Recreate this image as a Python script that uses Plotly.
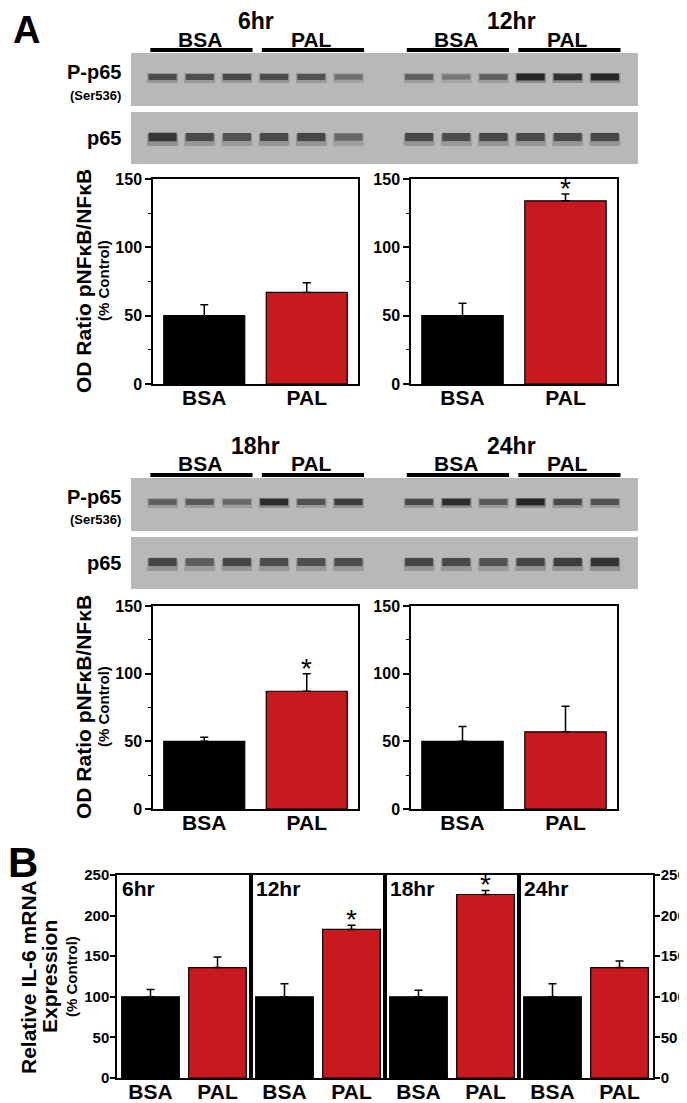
import plotly.graph_objects as go

# the page puts the plot 8 px in from the top-left corner, so all positions below
# are given in window pixels and shifted by OFF when converted to paper fractions
OFF = 8
W, H = 687 - OFF, 1103 - OFF
FONT = "Liberation Sans"
RED = "#C8191E"
FILM = 184  # grey level of the blot film

# ---------------- data ----------------
groups = ["BSA", "PAL"]

# Panel A western blots: band darkness (0 = film, 1 = black), 3 BSA + 3 PAL lanes per time point
blot_top_times = ["6hr", "12hr"]
pp65_top = [0.70, 0.68, 0.72, 0.70, 0.66, 0.48, 0.58, 0.42, 0.58, 0.95, 0.88, 0.95]
p65_top = [0.85, 0.72, 0.66, 0.72, 0.74, 0.52, 0.74, 0.70, 0.74, 0.72, 0.72, 0.74]

blot_bottom_times = ["18hr", "24hr"]
pp65_bottom = [0.58, 0.62, 0.52, 0.90, 0.66, 0.80, 0.72, 0.90, 0.62, 0.95, 0.72, 0.66]
p65_bottom = [0.74, 0.60, 0.74, 0.70, 0.68, 0.70, 0.74, 0.72, 0.66, 0.74, 0.80, 0.86]

# Panel A densitometry: OD ratio pNFkB/NFkB (% control), mean + SEM
od_times = ["6hr", "12hr", "18hr", "24hr"]
od_bsa = [50, 50, 50, 50]
od_bsa_err = [8, 9, 3, 11]
od_pal = [67, 134, 87, 57]
od_pal_err = [7, 5, 13, 19]
od_sig = [False, True, True, False]

# Panel B: relative IL-6 mRNA (% control), mean + SEM
il6_times = ["6hr", "12hr", "18hr", "24hr"]
il6_bsa = [100, 100, 100, 100]
il6_bsa_err = [9, 16, 8, 16]
il6_pal = [136, 183, 226, 136]
il6_pal_err = [13, 5, 5, 8]
il6_sig = [False, True, True, False]

# lane positions on the film (two time points, gap between them)
lane_x = [0, 1, 2, 3, 4, 5, 6.9, 7.9, 8.9, 9.9, 10.9, 11.9]


def fx(px):
    return (px - OFF) / W


def fy(py):
    return 1 - (py - OFF) / H


def gray(level):
    v = int(round(level))
    return f"rgb({v},{v},{v})"


def bfont(size):
    return dict(family=FONT, size=size, color="black", weight="bold")


def note(x, y, text, font, **kw):
    # paper-anchored text, centred unless told otherwise
    d = dict(xref="paper", yref="paper", x=fx(x), y=fy(y), text=text, showarrow=False,
             font=font, xanchor="center", yanchor="middle")
    d.update(kw)
    return d


fig = go.Figure()
annotations = []


def add_blot(n, top, times, pp65, p65):
    xa, ya = f"x{n}", f"y{n}"
    fig.update_layout({
        f"xaxis{n}": dict(domain=[fx(131), fx(638)], range=[-0.85, 12.79], visible=False,
                          anchor=ya, automargin=False),
        f"yaxis{n}": dict(domain=[fy(top + 164), fy(top + OFF)], range=[164, OFF], visible=False,
                          anchor=xa, automargin=False),
    })
    # film strips
    for y0, y1 in [(53, 106), (112, 164)]:
        fig.add_shape(type="rect", xref=f"{xa} domain", yref=ya, x0=0, x1=1, y0=y0, y1=y1,
                      fillcolor=gray(FILM), line_width=0, layer="below")
    # bands: soft halo first, then the dark core
    for row_y, dark, core, smear in [(77, pp65, 4, 1), (137, p65, 6, 3)]:
        fig.add_trace(go.Scatter(
            x=lane_x, y=[row_y + smear] * len(lane_x), mode="markers", xaxis=xa, yaxis=ya,
            hoverinfo="skip",
            marker=dict(symbol="line-ew", size=22,
                        line=dict(width=core + 6, color=[gray(FILM - d * 0.3 * (FILM - 30)) for d in dark]))))
        fig.add_trace(go.Scatter(
            x=lane_x, y=[row_y] * len(lane_x), mode="markers", xaxis=xa, yaxis=ya,
            hoverinfo="skip",
            marker=dict(symbol="line-ew", size=20,
                        line=dict(width=[core + 3 * d for d in dark],
                                  color=[gray(FILM - d * (FILM - 30)) for d in dark]))))
    # headers: time point, BSA / PAL with bars
    for ti, t in enumerate(times):
        lanes = lane_x[6 * ti:6 * ti + 6]
        annotations.append(dict(xref=xa, yref=ya, x=(lanes[2] + lanes[3]) / 2, y=21, text=t,
                                showarrow=False, font=bfont(23), xanchor="center", yanchor="middle"))
        for gi, g in enumerate(groups):
            gl = lanes[3 * gi:3 * gi + 3]
            fig.add_shape(type="line", xref=xa, yref=ya, x0=gl[0] - 0.33, x1=gl[-1] + 0.42, y0=50, y1=50,
                          line=dict(color="black", width=4))
            annotations.append(dict(xref=xa, yref=ya, x=gl[1], y=39, text=g, showarrow=False,
                                    font=bfont(21), xanchor="center", yanchor="middle"))
    # row labels
    annotations.append(note(123, top + 72, "P-p65", bfont(20), xanchor="right"))
    annotations.append(note(123, top + 95, "(Ser536)", bfont(13), xanchor="right"))
    annotations.append(note(123, top + 138, "p65", bfont(20), xanchor="right"))


def add_od_chart(n, i, xpx, ypx):
    xa, ya = f"x{n}", f"y{n}"
    vals = [od_bsa[i], od_pal[i]]
    errs = [od_bsa_err[i], od_pal_err[i]]
    fig.add_trace(go.Bar(
        x=groups, y=vals, width=0.79, xaxis=xa, yaxis=ya,
        marker=dict(color=["black", RED], line=dict(color="black", width=1.2)),
        error_y=dict(type="data", array=errs, arrayminus=[0, 0], symmetric=False,
                     color="black", thickness=1.5, width=4)))
    fig.update_layout({
        f"xaxis{n}": dict(domain=[fx(xpx[0]), fx(xpx[1])], anchor=ya, type="category", range=[-0.5, 1.5],
                          showline=True, mirror=True, linecolor="black", linewidth=1.5, ticks="",
                          showgrid=False, tickfont=bfont(21), ticklabelstandoff=-6, automargin=False),
        f"yaxis{n}": dict(domain=[fy(ypx[1]), fy(ypx[0])], anchor=xa, range=[0, 150],
                          tickvals=[0, 50, 100, 150], ticks="outside", ticklen=6, tickwidth=1.5,
                          tickcolor="black", showline=True, mirror=True, linecolor="black", linewidth=1.5,
                          showgrid=False, zeroline=False, tickfont=bfont(16), automargin=False,
                          minor=dict(tickmode="array", tickvals=[25, 75, 125], ticks="outside",
                                     ticklen=3, tickwidth=1.2, tickcolor="black", showgrid=False)),
    })
    if od_sig[i]:
        annotations.append(dict(xref=xa, yref=ya, x="PAL", y=vals[1] + errs[1], xanchor="center",
                                yanchor="bottom", yshift=-12, text="*", showarrow=False,
                                font=dict(family=FONT, size=28, color="black")))


def add_od_title(ycenter):
    annotations.append(note(83, ycenter, "OD Ratio pNFκB/NFκB", bfont(21), textangle=-90))
    annotations.append(note(103, ycenter, "(% Control)", bfont(15), textangle=-90))


# ---------------- panel A ----------------
add_blot(9, 0, blot_top_times, pp65_top, p65_top)
add_blot(10, 425, blot_bottom_times, pp65_bottom, p65_bottom)

add_od_chart(1, 0, (153, 358), (179, 384))
add_od_chart(2, 1, (411, 617), (179, 384))
add_od_chart(3, 2, (153, 358), (606, 809))
add_od_chart(4, 3, (411, 617), (606, 809))
add_od_title(281)
add_od_title(707)

# ---------------- panel B ----------------
b_edges = [117, 251, 385, 519, 653]
for i, t in enumerate(il6_times):
    n = 5 + i
    xa, ya = f"x{n}", f"y{n}"
    vals = [il6_bsa[i], il6_pal[i]]
    errs = [il6_bsa_err[i], il6_pal_err[i]]
    fig.add_trace(go.Bar(
        x=groups, y=vals, width=0.86, xaxis=xa, yaxis=ya,
        marker=dict(color=["black", RED], line=dict(color="black", width=1.2)),
        error_y=dict(type="data", array=errs, arrayminus=[0, 0], symmetric=False,
                     color="black", thickness=1.5, width=4)))
    yax = dict(domain=[fy(1078), fy(875)], anchor=xa, range=[0, 250], tickvals=[0, 50, 100, 150, 200, 250],
               showline=True, mirror=True, linecolor="black", linewidth=1.5, showgrid=False, zeroline=False,
               tickfont=bfont(15), tickcolor="black", tickwidth=1.5, ticklen=5, ticklabelstandoff=-2,
               automargin=False)
    if i == 0:
        yax.update(ticks="outside", side="left")
    elif i == 3:
        yax.update(ticks="outside", side="right")
    else:
        yax.update(ticks="", showticklabels=False)
    fig.update_layout({
        f"xaxis{n}": dict(domain=[fx(b_edges[i]), fx(b_edges[i + 1])], anchor=ya, type="category",
                          range=[-0.5, 1.5], showline=True, mirror=True, linecolor="black", linewidth=1.5,
                          ticks="", showgrid=False, tickfont=bfont(21), ticklabelstandoff=-6,
                          automargin=False),
        f"yaxis{n}": yax,
    })
    annotations.append(dict(xref=f"{xa} domain", yref=f"{ya} domain", x=0.02, y=1.0, xanchor="left",
                            yanchor="top", text=t, showarrow=False, font=bfont(21)))
    if il6_sig[i]:
        annotations.append(dict(xref=xa, yref=ya, x="PAL", y=vals[1] + errs[1], xanchor="center",
                                yanchor="bottom", yshift=-12, text="*", showarrow=False,
                                font=dict(family=FONT, size=28, color="black")))

annotations.append(note(28, 977, "Relative IL-6 mRNA", bfont(21), textangle=-90))
annotations.append(note(49, 977, "Expression", bfont(21), textangle=-90))
annotations.append(note(71, 977, "(% Control)", bfont(15), textangle=-90))

# panel letters
annotations.append(note(26, 30, "A", bfont(38)))
annotations.append(note(23, 862, "B", bfont(42)))

fig.update_layout(
    width=W, height=H,
    margin=dict(l=0, r=0, t=0, b=0, autoexpand=False),
    paper_bgcolor="white", plot_bgcolor="white",
    showlegend=False,
    annotations=annotations,
    font=dict(family=FONT, color="black"),
)

fig.write_html("out.html")
